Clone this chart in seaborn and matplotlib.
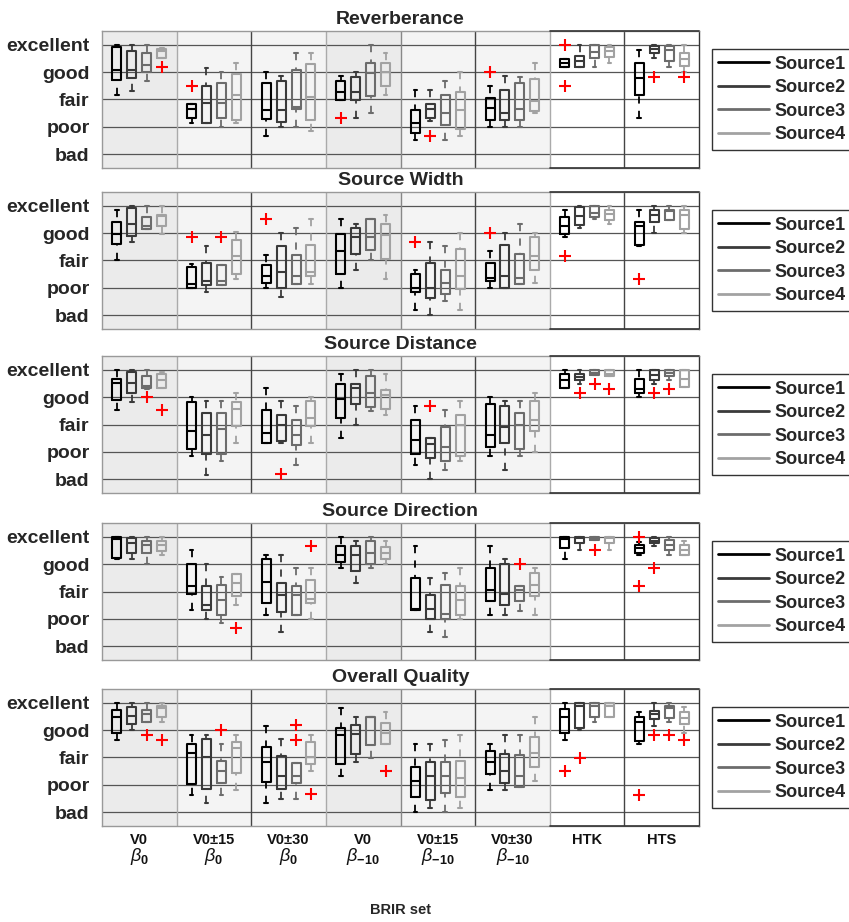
import numpy as np
import matplotlib
matplotlib.use("Agg")
import matplotlib.pyplot as plt
import seaborn as sns
from matplotlib.lines import Line2D

# ---------------- data ----------------
group_names = ["V0", "V0\u00b115", "V0\u00b130", "V0", "V0\u00b115", "V0\u00b130", "HTK", "HTS"]
group_betas = ["$\\beta_{0}$", "$\\beta_{0}$", "$\\beta_{0}$", "$\\beta_{-10}$", "$\\beta_{-10}$",
               "$\\beta_{-10}$", "", ""]
sources = ["Source1", "Source2", "Source3", "Source4"]
attributes = ["Reverberance", "Source Width", "Source Distance", "Source Direction", "Overall Quality"]
levels = ["bad", "poor", "fair", "good", "excellent"]
level_values = [1, 2, 3, 4, 5]

# Reverberance: rows = BRIR sets, columns = sources
rev_lo = [[3.16, 3.32, 3.66, 4.51], [2.16, 2.16, 2.0, 2.16], [1.67, 2.01, 2.0, 1.85], [2.99, 2.34, 2.49, 3.16],
          [1.51, 2.22, 1.51, 1.67], [2.01, 2.01, 2.01, 2.5], [4.17, 4.17, 4.17, 4.33], [2.34, 4.51, 4.17, 4.01]]
rev_q1 = [[3.72, 3.8, 3.99, 4.51], [2.34, 2.16, 2.34, 2.24], [2.3, 2.18, 2.67, 2.26], [2.99, 2.98, 3.13, 3.48],
          [1.77, 2.32, 2.06, 1.91], [2.26, 2.26, 2.26, 2.59], [4.17, 4.17, 4.51, 4.54], [3.16, 4.7, 4.41, 4.23]]
rev_med = [[4.09, 4.09, 4.26, 4.76], [2.65, 2.87, 2.87, 3.17], [2.61, 2.61, 2.71, 3.1], [3.29, 3.29, 3.95, 4.01],
           [2.16, 2.65, 2.49, 2.61], [2.68, 2.52, 2.65, 2.95], [4.33, 4.41, 4.72, 4.76], [3.78, 4.84, 4.82, 4.48]]
rev_q3 = [[4.9, 4.76, 4.68, 4.84], [2.85, 3.5, 3.6, 3.93], [3.59, 3.68, 4.09, 4.29], [3.68, 3.83, 4.33, 4.35],
          [2.61, 2.83, 3.16, 3.26], [3.07, 3.34, 3.6, 3.74], [4.48, 4.6, 5.0, 4.9], [4.35, 4.96, 4.94, 4.68]]
rev_hi = [[5.0, 5.0, 5.0, 4.88], [2.85, 4.16, 4.02, 4.35], [4.02, 3.84, 4.68, 4.68], [3.84, 4.02, 5.0, 4.68],
          [3.33, 3.35, 3.68, 4.01], [3.5, 3.84, 3.83, 4.35], [4.48, 5.0, 5.0, 5.0], [4.82, 5.0, 5.0, 5.0]]
rev_out = [(0, 3, 4.17), (1, 0, 3.5), (3, 0, 2.32), (4, 1, 1.67), (5, 0, 4.01),
           (6, 0, 5.0), (6, 0, 3.5), (7, 1, 3.83), (7, 3, 3.83)]

# Source Width
wid_lo = [[3.0, 3.67, 4.16, 3.98], [2.0, 1.85, 2.09, 2.33], [2.0, 1.67, 2.16, 2.16], [2.0, 2.67, 3.0, 2.33],
          [1.19, 1.01, 1.52, 1.19], [2.0, 2.0, 2.16, 2.19], [3.85, 4.19, 4.52, 4.33], [3.52, 4.01, 4.49, 4.01]]
wid_q1 = [[3.62, 3.91, 4.16, 4.25], [2.0, 2.09, 2.09, 2.49], [2.19, 2.0, 2.16, 2.43], [2.52, 3.24, 3.4, 3.06],
          [1.85, 1.64, 1.76, 1.95], [2.25, 2.0, 2.16, 2.64], [3.98, 4.31, 4.59, 4.49], [3.58, 4.41, 4.49, 4.16]]
wid_med = [[3.95, 4.35, 4.25, 4.61], [2.15, 2.27, 2.27, 3.18], [2.45, 2.59, 2.43, 2.59], [3.34, 3.85, 3.85, 3.92],
           [2.0, 2.0, 2.19, 2.43], [2.37, 2.45, 2.37, 3.18], [4.27, 4.61, 4.73, 4.7], [4.25, 4.67, 4.82, 4.67]]
wid_q3 = [[4.41, 4.92, 4.59, 4.67], [2.76, 2.92, 2.85, 3.74], [2.85, 3.52, 3.19, 3.58], [3.98, 4.19, 4.52, 4.33],
          [2.52, 2.92, 2.67, 3.42], [2.92, 3.58, 3.24, 3.85], [4.59, 4.94, 5.0, 4.85], [4.41, 4.85, 4.85, 4.83]]
wid_hi = [[4.85, 5.0, 5.0, 5.0], [2.86, 3.52, 2.85, 4.03], [3.19, 4.01, 4.19, 4.53], [4.52, 4.33, 4.52, 4.67],
          [2.67, 3.67, 3.52, 4.01], [3.34, 4.01, 4.33, 4.01], [4.85, 5.0, 5.0, 5.0], [4.85, 5.0, 5.0, 5.0]]
wid_out = [(1, 0, 3.85), (1, 2, 3.85), (2, 0, 4.52), (4, 0, 3.67), (5, 0, 4.01), (6, 0, 3.18), (7, 0, 2.33)]

# Source Distance
dist_lo = [[3.52, 3.82, 4.31, 4.33], [1.84, 1.17, 1.67, 2.34], [2.33, 2.33, 1.51, 2.33], [2.51, 3.0, 3.48, 3.34],
           [1.51, 1.0, 1.35, 1.67], [1.84, 1.35, 1.84, 2.0], [4.34, 4.49, 4.82, 4.77], [4.0, 4.49, 4.64, 4.37]]
dist_q1 = [[3.91, 4.16, 4.34, 4.33], [2.12, 1.91, 1.91, 2.95], [2.33, 2.39, 2.24, 2.95], [3.24, 3.74, 3.64, 3.55],
           [1.94, 1.76, 1.67, 1.84], [2.18, 2.33, 2.1, 2.76], [4.34, 4.64, 4.82, 4.77], [4.16, 4.64, 4.77, 4.37]]
dist_med = [[4.51, 4.51, 4.4, 4.61], [2.76, 2.61, 2.85, 3.58], [2.69, 3.0, 2.63, 3.24], [3.92, 4.34, 4.16, 4.06],
            [2.45, 2.3, 2.18, 2.97], [2.61, 2.91, 2.97, 3.15], [4.61, 4.73, 4.89, 4.85], [4.31, 4.82, 4.88, 4.67]]
dist_q3 = [[4.65, 4.91, 4.76, 4.85], [3.82, 3.42, 3.42, 3.82], [3.52, 3.34, 3.18, 3.85], [4.49, 4.49, 4.76, 4.25],
           [3.18, 2.51, 2.91, 3.34], [3.76, 3.66, 3.42, 3.85], [4.85, 4.85, 4.98, 4.98], [4.65, 4.98, 4.98, 4.98]]
dist_hi = [[5.0, 5.0, 5.0, 4.92], [4.0, 3.85, 3.85, 4.16], [4.33, 3.85, 3.66, 4.0], [4.85, 4.98, 5.0, 4.85],
           [3.68, 2.51, 3.52, 3.85], [4.0, 3.85, 3.85, 4.16], [5.0, 5.0, 5.0, 5.0], [5.0, 5.0, 5.0, 4.98]]
dist_out = [(0, 2, 4.0), (0, 3, 3.52), (2, 1, 1.18), (4, 1, 3.66), (6, 1, 4.16), (6, 2, 4.49), (6, 3, 4.31),
            (7, 1, 4.16), (7, 2, 4.31)]

# Source Direction
dirn_lo = [[4.17, 4.17, 4.0, 4.33], [2.33, 2.0, 1.84, 2.49], [2.16, 1.51, 2.16, 2.0], [3.84, 3.32, 3.84, 4.0],
           [2.33, 1.51, 1.35, 2.0], [2.16, 2.16, 2.3, 2.16], [4.17, 4.51, 4.88, 4.51], [4.33, 4.67, 4.33, 4.33]]
dirn_q1 = [[4.24, 4.42, 4.42, 4.49], [2.9, 2.33, 2.16, 2.83], [2.58, 2.25, 2.16, 2.58], [4.08, 3.74, 4.0, 4.17],
           [2.33, 2.0, 1.98, 2.16], [2.65, 2.49, 2.65, 2.82], [4.57, 4.76, 4.88, 4.76], [4.42, 4.76, 4.51, 4.33]]
dirn_med = [[4.9, 4.76, 4.69, 4.69], [3.2, 2.52, 2.68, 3.32], [3.35, 2.86, 2.86, 2.74], [4.35, 4.35, 4.42, 4.42],
            [2.37, 2.35, 2.19, 2.68], [3.07, 2.9, 3.07, 3.25], [4.9, 4.95, 4.94, 4.95], [4.57, 4.85, 4.69, 4.51]]
dirn_q3 = [[5.0, 4.94, 4.85, 4.85], [4.0, 3.19, 3.25, 3.65], [4.17, 3.32, 3.19, 3.41], [4.67, 4.67, 4.85, 4.61],
           [3.51, 2.86, 3.25, 3.19], [3.84, 4.0, 3.19, 3.68], [5.0, 5.0, 5.0, 5.0], [4.69, 4.94, 4.88, 4.69]]
dirn_hi = [[5.0, 5.0, 5.0, 5.0], [4.51, 4.0, 3.53, 3.65], [4.33, 4.33, 3.84, 3.84], [5.0, 4.84, 5.0, 4.84],
           [4.67, 3.5, 3.68, 3.84], [4.67, 4.18, 3.19, 3.84], [5.0, 5.0, 5.0, 5.0], [4.82, 5.0, 5.0, 4.84]]
dirn_out = [(1, 3, 1.66), (2, 3, 4.67), (5, 2, 4.0), (6, 2, 4.51), (7, 0, 5.0), (7, 1, 3.84), (7, 0, 3.2)]

# Overall Quality
qual_lo = [[3.64, 4.0, 4.31, 4.31], [1.64, 1.33, 1.64, 1.81], [1.33, 1.48, 1.48, 2.49], [2.33, 2.82, 2.97, 3.48],
           [1.0, 1.16, 1.0, 1.16], [1.81, 1.81, 1.93, 2.15], [3.64, 4.0, 4.31, 4.49], [3.48, 4.15, 4.31, 3.88]]
qual_q1 = [[3.91, 4.24, 4.31, 4.48], [2.03, 1.85, 2.07, 2.43], [2.09, 1.85, 2.07, 2.76], [2.76, 3.12, 3.45, 3.48],
           [1.57, 1.45, 1.69, 1.57], [2.39, 2.07, 1.93, 2.66], [3.88, 4.09, 4.49, 4.49], [3.61, 4.42, 4.45, 4.21]]
qual_med = [[4.49, 4.52, 4.58, 4.82], [3.16, 3.0, 2.49, 3.36], [2.84, 2.33, 2.33, 3.0], [3.82, 3.85, 4.47, 3.91],
            [2.15, 2.33, 2.33, 2.27], [2.84, 2.52, 2.33, 3.15], [4.49, 4.88, 4.88, 4.88], [4.31, 4.6, 4.8, 4.45]]
qual_q3 = [[4.73, 4.84, 4.72, 4.88], [3.48, 3.67, 2.88, 3.58], [3.39, 3.06, 2.79, 3.58], [4.09, 4.18, 4.49, 4.25],
           [2.66, 2.84, 2.84, 2.88], [3.22, 3.12, 3.1, 3.76], [4.78, 5.0, 5.0, 5.0], [4.49, 4.7, 4.88, 4.66]]
qual_hi = [[5.0, 5.0, 5.0, 5.0], [3.82, 3.82, 3.48, 3.82], [4.15, 3.67, 2.79, 3.82], [4.82, 4.49, 4.49, 4.66],
           [3.48, 3.48, 3.64, 3.82], [3.48, 3.82, 3.82, 4.49], [5.0, 5.0, 5.0, 5.0], [4.66, 5.0, 5.0, 4.84]]
qual_out = [(0, 2, 3.82), (0, 3, 3.64), (1, 2, 4.0), (2, 2, 4.18), (2, 2, 3.64), (2, 3, 1.67), (3, 3, 2.49),
            (6, 0, 2.49), (6, 1, 2.98), (7, 0, 1.64), (7, 1, 3.82), (7, 2, 3.82), (7, 3, 3.64)]

panel_data = {
    "Reverberance": (rev_lo, rev_q1, rev_med, rev_q3, rev_hi, rev_out),
    "Source Width": (wid_lo, wid_q1, wid_med, wid_q3, wid_hi, wid_out),
    "Source Distance": (dist_lo, dist_q1, dist_med, dist_q3, dist_hi, dist_out),
    "Source Direction": (dirn_lo, dirn_q1, dirn_med, dirn_q3, dirn_hi, dirn_out),
    "Overall Quality": (qual_lo, qual_q1, qual_med, qual_q3, qual_hi, qual_out),
}

# ---------------- style ----------------
sns.set_style("white")
plt.rcParams["font.family"] = ["Liberation Sans", "DejaVu Sans"]
plt.rcParams["mathtext.fontset"] = "custom"
plt.rcParams["mathtext.it"] = "Liberation Sans:italic"
plt.rcParams["mathtext.rm"] = "Liberation Sans:bold"
plt.rcParams["mathtext.bf"] = "Liberation Sans:bold"

src_colors = ["#000000", "#3a3a3a", "#6c6c6c", "#a2a2a2"]
offsets = [-0.3, -0.1, 0.1, 0.3]
bg_colors = ["#ebebeb", "#f4f4f4", "#f4f4f4", "#ebebeb", "#f4f4f4", "#f4f4f4", "#ffffff", "#ffffff"]
vline_colors = ["#aaaaaa", "#444444", "#aaaaaa", "#888888", "#444444", "#aaaaaa", "#444444"]

W, H = 849, 922
fig = plt.figure(figsize=(W / 100, H / 100), dpi=100)
ax_left, ax_width, ax_h = 102, 597, 137
tops = [31, 192, 356, 523, 689]

for k, attr in enumerate(attributes):
    top = tops[k]
    ax = fig.add_axes([ax_left / W, 1 - (top + ax_h) / H, ax_width / W, ax_h / H])
    lo, q1, med, q3, hi, outl = panel_data[attr]
    ngroups = len(group_names)
    for g in range(ngroups):
        ax.axvspan(g - 0.5, g + 0.5, color=bg_colors[g], lw=0, zorder=0)
    for y in level_values:
        ax.axhline(y, color="#555555", lw=0.9, zorder=1)
    for i in range(ngroups - 1):
        ax.axvline(i + 0.5, color=vline_colors[i], lw=1.0, zorder=1)

    for s, src in enumerate(sources):
        c = src_colors[s]
        stats = []
        for g in range(ngroups):
            fl = [v for (gg, ss, v) in outl if gg == g and ss == s]
            stats.append(dict(whislo=lo[g][s], q1=q1[g][s], med=med[g][s], q3=q3[g][s],
                              whishi=hi[g][s], fliers=fl))
        art = ax.bxp(stats, positions=np.arange(ngroups) + offsets[s], widths=0.12, capwidths=0.05,
                     manage_ticks=False, showfliers=True,
                     boxprops=dict(color=c, lw=1.5), medianprops=dict(color=c, lw=1.5),
                     whiskerprops=dict(color=c, lw=1.3, ls=(0, (4, 4))),
                     capprops=dict(color=c, lw=1.5),
                     flierprops=dict(marker="+", markeredgecolor="red", markersize=8, mew=1.5, ls="none"))
        for w in art["whiskers"]:
            w.set_data(w.get_xdata()[::-1], w.get_ydata()[::-1])
        for key in ("boxes", "medians", "whiskers", "caps", "fliers"):
            for a in art[key]:
                a.set_zorder(3)

    ax.set_xlim(-0.5, ngroups - 0.5)
    ax.set_ylim(0.5, 5.5)
    ax.set_yticks(level_values)
    ax.set_yticklabels(levels, fontsize=14, fontweight="bold", color="#262626")
    ax.tick_params(axis="y", direction="in", length=0, pad=9)
    for sp in ax.spines.values():
        sp.set_color("#999999")
        sp.set_linewidth(1.0)
    ax.spines["right"].set_color("#333333")
    ax.plot([5.5, 7.5], [5.5, 5.5], color="#333333", lw=1.2, clip_on=False, zorder=5)
    ax.plot([5.5, 7.5], [0.5, 0.5], color="#333333", lw=1.2, clip_on=False, zorder=5)
    ax.set_title(attr, fontsize=14, fontweight="bold", pad=5)

    if k == len(attributes) - 1:
        ax.set_xticks(np.arange(ngroups))
        ax.set_xticklabels(group_names, fontsize=10.5, fontweight="bold", color="#111111")
        ax.tick_params(axis="x", length=0, pad=5)
        tr = ax.get_xaxis_transform()
        for g, b in enumerate(group_betas):
            if b:
                ax.text(g, -0.148, b, transform=tr, ha="center", va="top", fontsize=13, color="#111111")
        ax.set_xlabel("BRIR set", fontsize=10.5, fontweight="bold", labelpad=40)
    else:
        ax.set_xticks([])

    handles = [Line2D([0], [0], color=src_colors[i], lw=2) for i in range(len(sources))]
    leg = ax.legend(handles, sources, loc="center left", bbox_to_anchor=(1.022, 0.5),
                    frameon=True, fancybox=False, edgecolor="black",
                    prop=dict(weight="bold", size=13), handlelength=2.8, handletextpad=0.3,
                    labelspacing=0.36, borderpad=0.35, borderaxespad=0)
    leg.get_frame().set_linewidth(1.0)

fig.savefig("out.png", dpi=100)
